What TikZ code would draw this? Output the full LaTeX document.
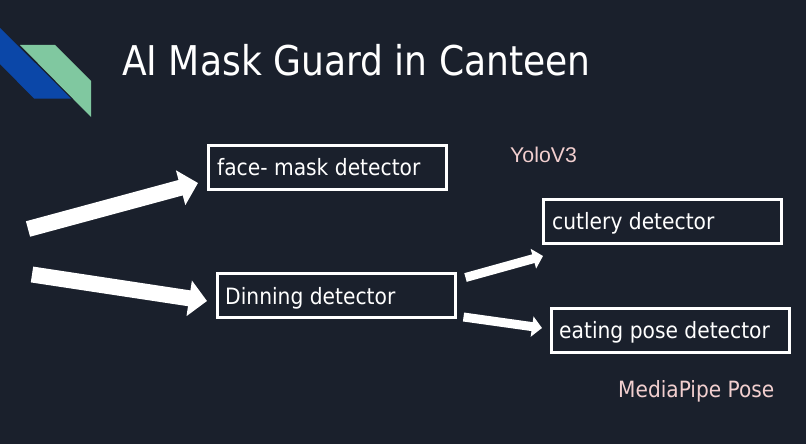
\documentclass[tikz,border=0pt]{standalone}
\usepackage{fontspec}
\setmainfont[FakeStretch=0.9]{DejaVu Sans}
\newfontfamily\titlefont[FakeStretch=0.88]{DejaVu Sans}
\newfontfamily\yolofont{Liberation Sans}
\usetikzlibrary{arrows.meta}
\definecolor{bgdark}{HTML}{1A202C}
\definecolor{logoblue}{HTML}{0B47A8}
\definecolor{logogreen}{HTML}{80C8A0}
\definecolor{pinklabel}{HTML}{F2CFCF}
\tikzset{
  x=1pt,y=-1pt,
  detbox/.style={draw=white,line width=3pt,minimum width=238pt,minimum height=43.5pt,inner sep=0pt},
  dettext/.style={text=white,inner sep=0pt,anchor=base west,font=\fontsize{22.5}{27}\selectfont},
  bigarrow/.style={draw=white,line width=16pt,-{Triangle[length=18pt,width=35pt]}},
  smallarrow/.style={draw=white,line width=9pt,-{Triangle[length=10pt,width=20pt]}},
  annot/.style={text=pinklabel,inner sep=0pt,anchor=base west}
}
\begin{document}
\begin{tikzpicture}
\useasboundingbox (0,0) rectangle (806,444);
\fill[bgdark] (0,0) rectangle (806,444);
\fill[logoblue] (0,28) -- (71,98.5) -- (34,98.5) -- (0,64) -- cycle;
\fill[logogreen] (20,45) -- (55,45) -- (91,81) -- (91,117) -- cycle;
\node[text=white,inner sep=0pt,anchor=base west,font=\titlefont\fontsize{41}{48}\selectfont] (title) at (122,76) {AI Mask Guard in Canteen};
\node[detbox] (face) at (327.5,167.3) {};
\node[dettext] (facet) at (217,175) {face- mask detector};
\node[detbox] (dinning) at (336,295.3) {};
\node[dettext] (dinningt) at (225,304) {Dinning detector};
\node[detbox] (cutlery) at (662.5,221.5) {};
\node[dettext] (cutleryt) at (552,229) {cutlery detector};
\node[detbox] (eating) at (670.3,330.3) {};
\node[dettext] (eatingt) at (559,338) {eating pose detector};
\node[annot,font=\yolofont\fontsize{21.3}{24}\selectfont] (yolo) at (510,162) {YoloV3};
\node[annot,font=\fontsize{22.4}{26}\selectfont] (mp) at (618,397) {MediaPipe Pose};
\coordinate (s1) at (28,229);
\coordinate (e1) at (198,183);
\coordinate (s2) at (32,274.5);
\coordinate (e2) at (207,301);
\coordinate (s3) at (465.5,277.5);
\coordinate (e3) at (543,256);
\coordinate (s4) at (463.5,317);
\coordinate (e4) at (542,328);
\draw[bigarrow] (s1) -- (e1);
\draw[bigarrow] (s2) -- (e2);
\draw[smallarrow] (s3) -- (e3);
\draw[smallarrow] (s4) -- (e4);
\end{tikzpicture}
\end{document}
